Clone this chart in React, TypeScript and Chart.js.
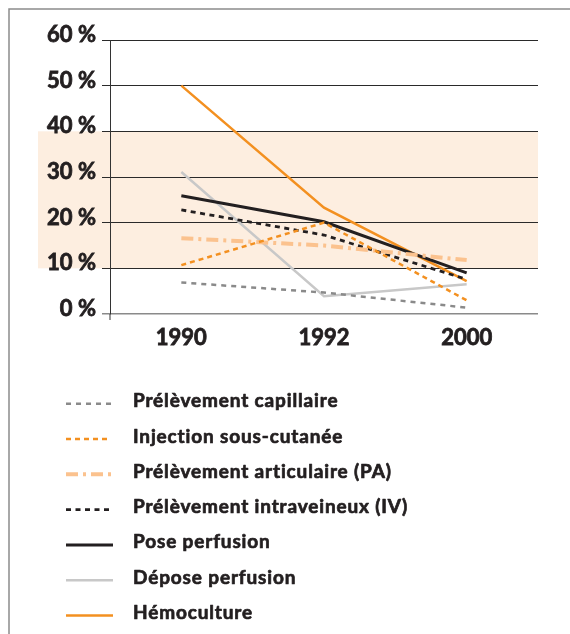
import { useEffect, useRef } from "react";
import { Chart, registerables } from "chart.js";
Chart.register(...registerables);

const years = ["1990", "1992", "2000"];
const seriesNames = [
  "Prélèvement capillaire",
  "Injection sous-cutanée",
  "Prélèvement articulaire (PA)",
  "Prélèvement intraveineux (IV)",
  "Pose perfusion",
  "Dépose perfusion",
  "Hémoculture",
];
const capillaire = [6.9, 4.7, 1.4];
const sousCutanee = [10.7, 20, 3];
const articulaire = [16.6, 15, 11.8];
const intraveineux = [22.8, 17.3, 7.6];
const posePerfusion = [25.9, 20.2, 9.0];
const deposePerfusion = [31.1, 3.9, 6.5];
const hemoculture = [50, 23.3, 7.2];
const yMin = 0;
const yMax = 60;
const yStep = 10;
const bandRange = [10, 40];

const FONT = "Lato, 'DejaVu Sans', sans-serif";
const TEXT = "#231f20";

const decor = {
  id: "decor",
  beforeDraw(chart: any) {
    const { ctx, chartArea, scales } = chart;
    const y = scales.y;
    ctx.save();
    const top = y.getPixelForValue(bandRange[1]);
    const bot = y.getPixelForValue(bandRange[0]);
    ctx.fillStyle = "#fdeee0";
    ctx.fillRect(38, top, chartArea.right - 38, bot - top);
    ctx.strokeStyle = "#8c8c8c";
    ctx.lineWidth = 1.5;
    ctx.beginPath();
    ctx.moveTo(9, chart.height);
    ctx.lineTo(9, 9);
    ctx.lineTo(chart.width, 9);
    ctx.stroke();
    ctx.restore();
  },
  afterDraw(chart: any) {
    const { ctx, chartArea } = chart;
    ctx.save();
    ctx.strokeStyle = "#333";
    ctx.lineWidth = 1;
    ctx.beginPath();
    ctx.moveTo(chartArea.left, chartArea.bottom);
    ctx.lineTo(chartArea.left, chartArea.bottom + 6);
    ctx.stroke();
    // legend
    chart.data.datasets.forEach((ds: any, i: number) => {
      const yy = 403.7 + i * 35.3;
      ctx.strokeStyle = ds.borderColor;
      ctx.lineWidth = ds.borderWidth;
      ctx.setLineDash(ds.borderDash || []);
      ctx.lineCap = "butt";
      ctx.beginPath();
      ctx.moveTo(66, yy);
      ctx.lineTo(ds.borderDash && ds.borderDash.length ? 111 : 113, yy);
      ctx.stroke();
      ctx.setLineDash([]);
      ctx.fillStyle = TEXT;
      ctx.strokeStyle = TEXT;
      ctx.lineWidth = 0.7;
      ctx.lineJoin = "round";
      ctx.font = `bold 19px ${FONT}`;
      (ctx as any).letterSpacing = "0.85px";
      ctx.textBaseline = "alphabetic";
      ctx.textAlign = "left";
      ctx.fillText(ds.label, 133, yy + 3.5);
      ctx.strokeText(ds.label, 133, yy + 3.5);
      (ctx as any).letterSpacing = "0px";
    });
    ctx.restore();
  },
};

export default function App() {
  const ref = useRef<HTMLCanvasElement | null>(null);
  useEffect(() => {
    if (!ref.current) return;
    const mk = (label: string, data: number[], color: string, width: number, dash: number[]) => ({
      label,
      data,
      borderColor: color,
      backgroundColor: color,
      borderWidth: width,
      borderDash: dash,
      pointRadius: 0,
      tension: 0,
      fill: false,
    });
    const chart = new Chart(ref.current, {
      type: "line",
      data: {
        labels: years,
        datasets: [
          mk(seriesNames[0], capillaire, "#8a8a8a", 2.5, [5, 5]),
          mk(seriesNames[1], sousCutanee, "#f39020", 2.5, [5, 4]),
          mk(seriesNames[2], articulaire, "#fbc28e", 4, [12, 5, 3, 5]),
          mk(seriesNames[3], intraveineux, "#231f20", 2.8, [5, 4.5]),
          mk(seriesNames[4], posePerfusion, "#231f20", 3, []),
          mk(seriesNames[5], deposePerfusion, "#c8c8c8", 2.5, []),
          mk(seriesNames[6], hemoculture, "#f39020", 2.5, []),
        ],
      },
      options: {
        responsive: false,
        animation: false,
        layout: { padding: { left: 0, top: 40, right: 32, bottom: 280 } },
        plugins: { legend: { display: false }, tooltip: { enabled: false } },
        scales: {
          x: {
            offset: true,
            grid: { display: false },
            border: { display: false },
            ticks: {
              color: TEXT,
              font: { family: FONT, size: 22, weight: "bold" },
              textStrokeColor: TEXT,
              textStrokeWidth: 0.8,
              padding: 3,
            },
            afterFit: (s: any) => {
              s.height = 40;
            },
          },
          y: {
            min: yMin,
            max: yMax,
            grid: {
              color: (c: any) => (c.tick && c.tick.value === 0 ? "#8a8a8a" : "#2a2a2a"),
              lineWidth: (c: any) => (c.tick && c.tick.value === 0 ? 1.5 : 1),
              tickLength: 8,
              drawTicks: true,
            },
            border: { display: true, color: "#333", width: 1 },
            ticks: {
              stepSize: yStep,
              color: TEXT,
              padding: 6,
              labelOffset: -5,
              font: { family: FONT, size: 22, weight: "bold" },
              textStrokeColor: TEXT,
              textStrokeWidth: 0.8,
              callback: (v: any) => `${v} %`,
            },
            afterFit: (s: any) => {
              s.width = 110;
            },
          },
        },
      },
      plugins: [decor],
    } as any);
    return () => chart.destroy();
  }, []);
  return (
    <div style={{ position: "fixed", left: 0, top: 0, width: 570, height: 634, background: "#fff" }}>
      <canvas ref={ref} width={570} height={634} />
    </div>
  );
}
